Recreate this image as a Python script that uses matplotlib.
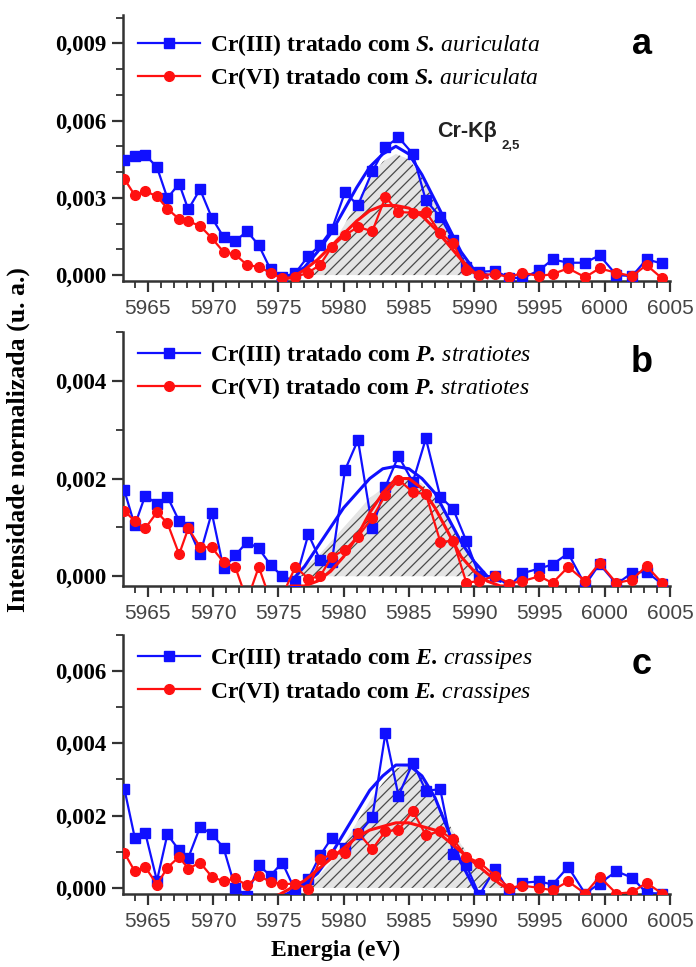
import numpy as np
import matplotlib.pyplot as plt
from matplotlib.ticker import MultipleLocator

plt.rcParams['mathtext.fontset'] = 'custom'
plt.rcParams['mathtext.rm'] = 'Liberation Serif:bold'
plt.rcParams['mathtext.it'] = 'Liberation Serif:italic'
plt.rcParams['mathtext.bfit'] = 'Liberation Serif:bold:italic'
plt.rcParams['hatch.linewidth'] = 0.9

# measured energies (eV), slightly uneven step
energy = [5963.2, 5964.0, 5964.8, 5965.7, 5966.5, 5967.4, 5968.1, 5969.0, 5969.9, 5970.8,
          5971.7, 5972.6, 5973.5, 5974.4, 5975.3, 5976.3, 5977.3, 5978.2, 5979.1, 5980.1,
          5981.1, 5982.2, 5983.2, 5984.2, 5985.3, 5986.3, 5987.4, 5988.4, 5989.4, 5990.4,
          5991.6, 5992.7, 5993.7, 5995.0, 5996.0, 5997.2, 5998.5, 5999.6, 6000.9, 6002.1,
          6003.2, 6004.4]

# panel a - S. auriculata
a_cr3 = [0.00445, 0.00462, 0.00467, 0.00419, 0.00299, 0.00355, 0.00255, 0.00333, 0.00223, 0.00148,
         0.00132, 0.00170, 0.00116, 0.00022, -0.00008, 0.00008, 0.00074, 0.00116, 0.00178, 0.00321,
         0.00271, 0.00403, 0.00497, 0.00535, 0.00471, 0.00290, 0.00226, 0.00135, 0.00032, 0.00013,
         0.00016, -0.00010, -0.00012, 0.00019, 0.00061, 0.00048, 0.00048, 0.00077, 0.00000, -0.00004,
         0.00061, 0.00045]
a_cr6 = [0.00374, 0.00310, 0.00326, 0.00306, 0.00258, 0.00217, 0.00209, 0.00191, 0.00144, 0.00090,
         0.00080, 0.00039, 0.00032, 0.00009, -0.00013, -0.00008, 0.00010, 0.00040, 0.00110, 0.00155,
         0.00187, 0.00170, 0.00303, 0.00245, 0.00242, 0.00246, 0.00163, 0.00123, 0.00019, 0.00000,
         0.00004, -0.00008, 0.00009, -0.00004, 0.00004, 0.00026, -0.00008, 0.00026, 0.00009, -0.00004,
         0.00039, -0.00013]

# panel b - P. stratiotes
b_cr3 = [0.00176, 0.00104, 0.00165, 0.00148, 0.00163, 0.00113, 0.00100, 0.00045, 0.00130, 0.00016,
         0.00043, 0.00070, 0.00057, 0.00023, 0.00000, -0.00010, 0.00086, 0.00033, 0.00030, 0.00217,
         0.00279, 0.00099, 0.00183, 0.00246, 0.00193, 0.00282, 0.00163, 0.00137, 0.00072, 0.00000,
         0.00000, -0.00020, 0.00006, 0.00016, 0.00024, 0.00047, -0.00018, 0.00025, -0.00016, 0.00007,
         0.00009, -0.00016]
b_cr6 = [0.00134, 0.00113, 0.00098, 0.00131, 0.00109, 0.00045, 0.00098, 0.00060, 0.00059, 0.00029,
         0.00019, -0.00050, 0.00019, -0.00050, -0.00040, 0.00019, -0.00005, 0.00000, 0.00040, 0.00054,
         0.00081, 0.00120, 0.00166, 0.00198, 0.00172, 0.00168, 0.00071, 0.00072, -0.00013, -0.00010,
         0.00001, -0.00015, -0.00010, 0.00000, -0.00014, 0.00019, -0.00010, 0.00027, -0.00014, -0.00007,
         0.00021, -0.00014]

# panel c - E. crassipes
c_cr3 = [0.00275, 0.00139, 0.00153, 0.00020, 0.00148, 0.00104, 0.00083, 0.00168, 0.00150, 0.00111,
         0.00000, -0.00022, 0.00062, 0.00034, 0.00070, -0.00008, 0.00025, 0.00090, 0.00139, 0.00111,
         0.00148, 0.00195, 0.00428, 0.00255, 0.00346, 0.00269, 0.00273, 0.00093, 0.00062, -0.00020,
         0.00053, -0.00012, 0.00014, 0.00018, 0.00009, 0.00058, -0.00016, 0.00012, 0.00046, 0.00028,
         -0.00014, -0.00016]
c_cr6 = [0.00097, 0.00046, 0.00058, 0.00009, 0.00056, 0.00086, 0.00053, 0.00070, 0.00031, 0.00018,
         0.00026, 0.00007, 0.00033, 0.00017, 0.00010, 0.00012, -0.00003, 0.00079, 0.00093, 0.00097,
         0.00153, 0.00107, 0.00157, 0.00160, 0.00213, 0.00146, 0.00157, 0.00134, 0.00086, 0.00070,
         0.00034, 0.00000, 0.00006, 0.00000, -0.00007, 0.00018, -0.00016, 0.00031, -0.00016, -0.00012,
         0.00014, -0.00016]

# fitted curves and Kb2,5 area, read at 1 eV steps
nan = np.nan
fit_energy = [5974, 5975, 5976, 5977, 5978, 5979, 5980, 5981, 5982, 5983,
              5984, 5985, 5986, 5987, 5988, 5989, 5990, 5991, 5992, 5993]
a_cr3_fit = [nan, -0.0002, 0.0000, 0.0003, 0.0009, 0.0016, 0.0025, 0.0034, 0.0042, 0.0047,
             0.0050, 0.0047, 0.0039, 0.0029, 0.0019, 0.0009, 0.0002, 0.0000, nan, nan]
a_cr6_fit = [nan, -0.0002, -0.0001, 0.0002, 0.0006, 0.0011, 0.0016, 0.0021, 0.0025, 0.0027,
             0.0027, 0.0026, 0.0023, 0.0018, 0.0012, 0.0006, 0.0001, -0.0001, nan, nan]
a_area = [0, 0, 0, 0.0000, 0.0004, 0.0011, 0.0019, 0.0028, 0.0037, 0.0044,
          0.0047, 0.0045, 0.0038, 0.0028, 0.0018, 0.0009, 0.0002, 0.0000, 0, 0]
b_cr3_fit = [nan, nan, -0.0001, 0.0002, 0.0006, 0.0010, 0.0014, 0.0017, 0.0020, 0.0022,
             0.00225, 0.0022, 0.0020, 0.0017, 0.0012, 0.0007, 0.0003, 0.0000, -0.0001, nan]
b_cr6_fit = [nan, nan, -0.0002, -0.0002, -0.0001, 0.0001, 0.0004, 0.0008, 0.0013, 0.0017,
             0.0020, 0.0020, 0.0018, 0.0014, 0.0009, 0.0004, 0.0001, -0.0001, -0.0002, -0.0002]
b_area = [0, 0, 0.0000, 0.0002, 0.0004, 0.0007, 0.0010, 0.0013, 0.0016, 0.0018,
          0.0020, 0.0020, 0.0019, 0.0016, 0.0012, 0.0007, 0.0003, 0.0000, 0, 0]
c_cr3_fit = [nan, -0.0003, -0.0001, 0.0001, 0.0004, 0.0009, 0.0015, 0.0021, 0.0027, 0.0031,
             0.0034, 0.0034, 0.0031, 0.0025, 0.0016, 0.0007, 0.0000, -0.0005, nan, nan]
c_cr6_fit = [-0.0003, -0.0002, 0.0000, 0.0002, 0.0005, 0.0008, 0.0011, 0.0014, 0.0016, 0.0017,
             0.0018, 0.0018, 0.0017, 0.0016, 0.0013, 0.0010, 0.0007, 0.0004, 0.0001, -0.0001]
c_area = [0, 0, 0, 0.0000, 0.0003, 0.0007, 0.0012, 0.0018, 0.0024, 0.0029,
          0.0033, 0.0034, 0.0031, 0.0025, 0.0018, 0.0012, 0.0007, 0.0004, 0.0001, 0.0000]

species = [r'$\mathbfit{S.}\,\mathit{auriculata}$',
           r'$\mathbfit{P.}\,\mathit{stratiotes}$',
           r'$\mathbfit{E.}\,\mathit{crassipes}$']
panel_letters = ['a', 'b', 'c']

BLUE = '#1010ff'
RED = '#ff1010'

fig = plt.figure(figsize=(6.96, 9.67), dpi=100)
W, H = 696, 967


def add_panel(top, bottom, ylim, ystep, cr3, cr6, cr3_fit, cr6_fit, area, name, letter, leg_y):
    ax = fig.add_axes([123 / W, 1 - bottom / H, 547 / W, (bottom - top) / H])
    ax.fill_between(fit_energy, 0, area, facecolor='#e4e4e4', edgecolor='#4a4a4a',
                    hatch='///', linewidth=0, zorder=1)
    ax.plot(energy, cr3, '-s', color=BLUE, lw=1.6, ms=6.5, zorder=3,
            label='Cr(III) tratado com ' + name)
    ax.plot(fit_energy, cr3_fit, color=BLUE, lw=2.2, zorder=4)
    ax.plot(energy, cr6, '-o', color=RED, lw=1.6, ms=7, zorder=5,
            label='Cr(VI) tratado com ' + name)
    ax.plot(fit_energy, cr6_fit, color=RED, lw=2.2, zorder=6)

    ax.set_xlim(5963.1, 6005.0)
    ax.set_ylim(*ylim)
    ax.spines[['top', 'right']].set_visible(False)
    for s in ('left', 'bottom'):
        ax.spines[s].set_linewidth(1.8)
        ax.spines[s].set_color('#333333')

    xt = np.arange(5965, 6006, 5)
    ax.set_xticks(xt, [str(v) for v in xt], family='Liberation Sans',
                  fontsize=15, color='#444444')
    yt = np.arange(0, ylim[1], ystep)
    ax.set_yticks(yt, [f'{v:.3f}'.replace('.', ',') for v in yt],
                  family='Liberation Serif', weight='bold', fontsize=16.5)
    ax.xaxis.set_minor_locator(MultipleLocator(1))
    ax.yaxis.set_minor_locator(MultipleLocator(0.001))
    ax.tick_params(which='major', length=8, width=1.6, color='#333333', direction='out')
    ax.tick_params(which='minor', length=5, width=1.3, color='#333333', direction='out')
    ax.tick_params(axis='x', pad=5)
    ax.tick_params(axis='y', pad=4)

    ax.legend(loc='upper left', bbox_to_anchor=(0.027, leg_y), frameon=False,
              prop={'family': 'Liberation Serif', 'weight': 'bold', 'size': 17},
              handlelength=2.63, handletextpad=0.42, labelspacing=0.31,
              borderpad=0, borderaxespad=0)
    fig.text(642 / W, 1 - (top + 30) / H, letter, ha='center', va='center',
             fontsize=26, weight='bold', family='Liberation Sans')
    return ax


add_panel(15, 281, (-0.00023, 0.0101), 0.003, a_cr3, a_cr6, a_cr3_fit, a_cr6_fit,
          a_area, species[0], panel_letters[0], 0.935)
add_panel(332, 586, (-0.0002, 0.0050), 0.002, b_cr3, b_cr6, b_cr3_fit, b_cr6_fit,
          b_area, species[1], panel_letters[1], 0.96)
add_panel(635, 894, (-0.00017, 0.0070), 0.002, c_cr3, c_cr6, c_cr3_fit, c_cr6_fit,
          c_area, species[2], panel_letters[2], 0.96)

fig.text(437 / W, 1 - 132 / H, 'Cr-K\u03b2', ha='left', va='center',
         fontsize=15.5, weight='bold', family='Liberation Sans', color='#222222')
fig.text(501 / W, 1 - 146 / H, '2,5', ha='left', va='center',
         fontsize=9.5, weight='bold', family='Liberation Sans', color='#222222')

fig.text(18 / W, 1 - 440 / H, 'Intensidade normalizada (u. a.)', rotation=90,
         ha='center', va='center', fontsize=18.5, weight='bold', family='Liberation Serif')
fig.text(336 / W, 1 - 950 / H, 'Energia (eV)', ha='center', va='center',
         fontsize=17, weight='bold', family='Liberation Serif')

fig.savefig('out.png', dpi=100)
